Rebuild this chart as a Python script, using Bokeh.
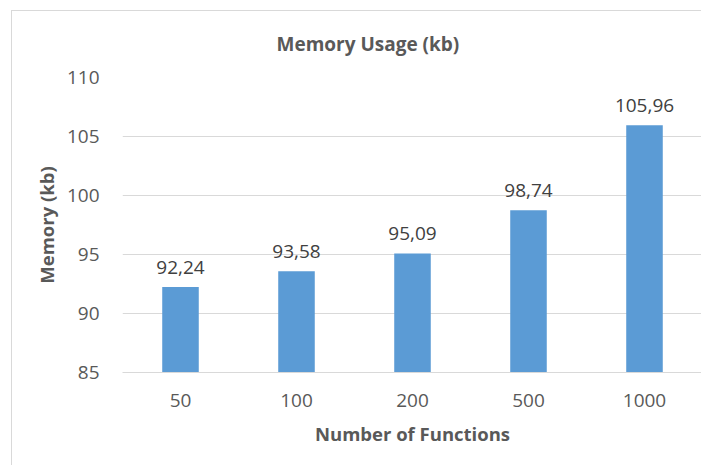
from bokeh.plotting import figure
from bokeh.models import ColumnDataSource, Range1d, FactorRange
from bokeh.core.properties import value
from bokeh.embed import file_html
from bokeh.resources import INLINE

categories = ["50", "100", "200", "500", "1000"]
memory = [92.24, 93.58, 95.09, 98.74, 105.96]
labels = ["92,24", "93,58", "95,09", "98,74", "105,96"]
y_ticks = [85, 90, 95, 100, 105, 110]

FONT = "Open Sans"
TXT = "#595959"
GRID = "#d9d9d9"
BAR = "#5b9bd5"

src = ColumnDataSource(dict(cat=categories, mem=memory, lab=labels))

p = figure(
    x_range=FactorRange(*categories, range_padding=0),
    y_range=Range1d(85, 110),
    width=690, height=455,
    output_backend="svg", toolbar_location=None,
    min_border_left=110, min_border_right=0,
    min_border_top=66, min_border_bottom=94,
    title="Memory Usage (kb)",
)
p.styles = {"border-left": f"1px solid {GRID}", "border-top": f"1px solid {GRID}",
            "margin-left": "11px", "margin-top": "10px"}

p.vbar(x="cat", top="mem", bottom=85, width=0.315, source=src,
       fill_color=BAR, line_color=None)
p.text(x="cat", y="mem", text="lab", source=src,
       text_align="center", text_baseline="alphabetic", y_offset=-20,
       text_font=value(FONT), text_font_size="19px", text_color="#404040")

p.outline_line_color = None
p.background_fill_color = "white"
p.border_fill_color = "white"

p.title.align = "left"
p.title.vertical_align = "top"
p.title.offset = 154
p.title.standoff = 37
p.title.text_font = FONT
p.title.text_font_size = "19px"
p.title.text_font_style = "bold"
p.title.text_color = TXT

p.xgrid.grid_line_color = None
p.ygrid.grid_line_color = GRID
p.ygrid.grid_line_width = 1
p.yaxis.ticker = y_ticks

for ax in (p.xaxis[0], p.yaxis[0]):
    ax.major_tick_line_color = None
    ax.minor_tick_line_color = None
    ax.major_tick_in = 0
    ax.major_tick_out = 0
    ax.major_label_text_font = FONT
    ax.major_label_text_font_size = "19px"
    ax.major_label_text_color = TXT
    ax.axis_label_text_font = FONT
    ax.axis_label_text_font_size = "18.5px"
    ax.axis_label_text_font_style = "bold"
    ax.axis_label_text_color = TXT

p.xaxis.axis_line_color = GRID
p.yaxis.axis_line_color = None
p.xaxis.axis_label = "Number of Functions"
p.yaxis.axis_label = "Memory (kb)"
p.xaxis.major_label_standoff = 21
p.yaxis.major_label_standoff = 23
p.xaxis.axis_label_standoff = 11
p.yaxis.axis_label_standoff = 5

open("out.html", "w").write(file_html(p, INLINE))
